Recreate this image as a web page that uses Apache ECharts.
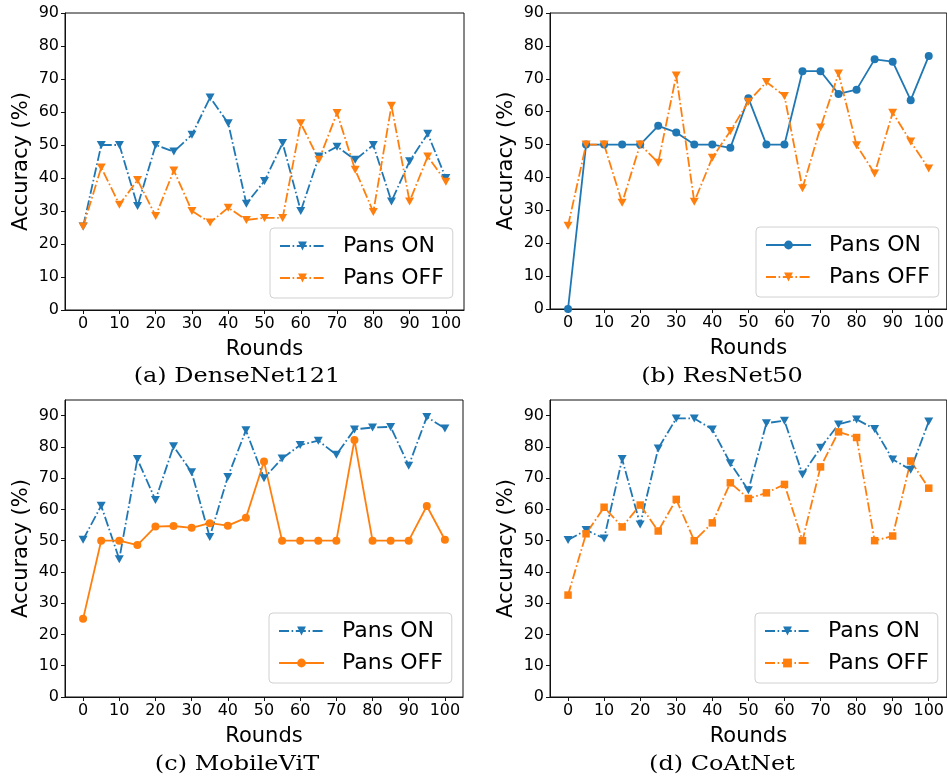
<!DOCTYPE html>
<html>
<head>
<meta charset="utf-8">
<script src="https://cdn.jsdelivr.net/npm/echarts@6/dist/echarts.min.js"></script>
<style>
  html, body { margin: 0; padding: 0; background: #fff; }
  #chart { width: 947px; height: 780px; }
</style>
</head>
<body>
<div id="chart"></div>
<script>
// Training rounds shared by every panel
const rounds = [0, 5, 10, 15, 20, 25, 30, 35, 40, 45, 50, 55, 60, 65, 70, 75, 80, 85, 90, 95, 100];
const xTicks = [0, 10, 20, 30, 40, 50, 60, 70, 80, 90, 100];
const yTicks = [0, 10, 20, 30, 40, 50, 60, 70, 80, 90];

// Accuracy (%) per round
const denseNetOn  = [25.3, 50.0, 50.0, 31.5, 50.0, 48.0, 53.1, 64.4, 56.6, 32.2, 39.1, 50.6, 30.0, 46.5, 49.5, 45.5, 50.0, 32.9, 45.1, 53.4, 40.0];
const denseNetOff = [25.3, 43.2, 31.9, 39.4, 28.5, 42.3, 30.0, 26.5, 31.0, 27.3, 27.9, 27.9, 56.6, 45.5, 59.7, 42.5, 29.7, 61.9, 32.9, 46.5, 38.9];

const resNetOn  = [0.0, 50.0, 50.0, 50.0, 50.0, 55.7, 53.7, 50.0, 50.0, 49.0, 64.1, 50.0, 50.0, 72.3, 72.3, 65.4, 66.7, 75.9, 75.2, 63.5, 76.9];
const resNetOff = [25.3, 50.0, 50.0, 32.3, 50.0, 44.5, 71.0, 32.6, 46.0, 54.1, 63.0, 69.0, 64.8, 36.7, 55.2, 71.6, 49.8, 41.2, 59.7, 50.9, 42.7];

const mobileVitOn  = [50.3, 61.2, 44.1, 76.1, 63.0, 80.2, 71.9, 51.2, 70.4, 85.3, 70.0, 76.3, 80.6, 82.0, 77.5, 85.6, 86.2, 86.4, 74.0, 89.6, 85.9];
const mobileVitOff = [25.0, 50.0, 50.0, 48.6, 54.5, 54.7, 54.1, 55.6, 54.8, 57.3, 75.3, 50.0, 50.0, 50.0, 50.0, 82.2, 50.0, 50.0, 50.0, 61.1, 50.3];

const coAtNetOn  = [50.2, 53.4, 50.7, 76.1, 55.2, 79.5, 89.1, 89.1, 85.6, 74.8, 66.1, 87.6, 88.4, 71.2, 79.7, 87.2, 88.8, 85.7, 76.0, 72.7, 88.1];
const coAtNetOff = [32.6, 52.2, 60.7, 54.4, 61.4, 53.1, 63.2, 50.0, 55.7, 68.5, 63.5, 65.3, 68.0, 50.0, 73.6, 84.8, 83.0, 50.0, 51.5, 75.5, 66.8];

const seriesLabels = ['Pans ON', 'Pans OFF'];
const modelNames = ['DenseNet121', 'ResNet50', 'MobileViT', 'CoAtNet'];
const captions = ['(a) DenseNet121', '(b) ResNet50', '(c) MobileViT', '(d) CoAtNet'];

const BLUE = '#1f77b4';
const ORANGE = '#ff7f0e';
const DASHDOT = [10, 2.6, 1.6, 2.6];
const SANS = 'DejaVu Sans';

// panel frames (px)
const panels = [
  { grid: { left: 65, top: 13, width: 399, height: 297 }, yMax: 90, legend: { left: 270, top: 228 }, caption: [237, 377] },
  { grid: { left: 550, top: 13, width: 398, height: 296 }, yMax: 90, legend: { left: 756, top: 227 }, caption: [722, 377] },
  { grid: { left: 65, top: 400, width: 398, height: 297 }, yMax: 95, legend: { left: 269, top: 613 }, caption: [237, 765] },
  { grid: { left: 550, top: 400, width: 398, height: 297 }, yMax: 95, legend: { left: 755, top: 613 }, caption: [722, 765] }
];

// per-panel line styles: [ON, OFF]
const styles = [
  [{ dash: DASHDOT, symbol: 'triangle', rot: 180, size: [9, 8] }, { dash: DASHDOT, symbol: 'triangle', rot: 180, size: [9, 8] }],
  [{ dash: 'solid', symbol: 'circle', rot: 0, size: 8 },          { dash: DASHDOT, symbol: 'triangle', rot: 180, size: [9, 8] }],
  [{ dash: DASHDOT, symbol: 'triangle', rot: 180, size: [9, 8] }, { dash: 'solid', symbol: 'circle', rot: 0, size: 8 }],
  [{ dash: DASHDOT, symbol: 'triangle', rot: 180, size: [9, 8] }, { dash: DASHDOT, symbol: 'rect', rot: 0, size: 7.5 }]
];

const values = [
  [denseNetOn, denseNetOff],
  [resNetOn, resNetOff],
  [mobileVitOn, mobileVitOff],
  [coAtNetOn, coAtNetOff]
];

const toPairs = vals => rounds.map((r, i) => [r, vals[i]]);
const SEP = ' · ';

const option = {
  backgroundColor: '#fff',
  animation: false,
  grid: panels.map(p => Object.assign({ show: true, borderColor: '#111', borderWidth: 1, backgroundColor: 'transparent' }, p.grid)),
  xAxis: panels.map((p, i) => ({
    gridIndex: i,
    type: 'value',
    min: -5,
    max: 105,
    name: 'Rounds',
    nameLocation: 'middle',
    nameGap: 29,
    nameTextStyle: { fontFamily: SANS, fontSize: 21, color: '#000' },
    axisLine: { show: true, onZero: false, lineStyle: { color: '#111', width: 1 } },
    axisTick: { show: true, length: 4, customValues: xTicks, lineStyle: { color: '#111' } },
    axisLabel: { customValues: xTicks, margin: 6, fontFamily: SANS, fontSize: 16, color: '#000' },
    splitLine: { show: false }
  })),
  yAxis: panels.map((p, i) => ({
    gridIndex: i,
    type: 'value',
    min: 0,
    max: p.yMax,
    interval: 10,
    name: 'Accuracy (%)',
    nameLocation: 'middle',
    nameGap: 33,
    nameTextStyle: { fontFamily: SANS, fontSize: 21, color: '#000' },
    axisLine: { show: true, onZero: false, lineStyle: { color: '#111', width: 1 } },
    axisTick: { show: true, length: 4, customValues: yTicks, lineStyle: { color: '#111' } },
    axisLabel: { customValues: yTicks, margin: 6, fontFamily: SANS, fontSize: 16, color: '#000' },
    splitLine: { show: false }
  })),
  legend: panels.map((p, i) => ({
    orient: 'vertical',
    left: p.legend.left,
    top: p.legend.top,
    data: seriesLabels.map(s => s + SEP + modelNames[i]),
    formatter: name => name.split(SEP)[0],
    itemWidth: 45,
    itemHeight: 11,
    itemGap: 10,
    padding: [7, 9, 9, 9],
    backgroundColor: 'rgba(255,255,255,0.85)',
    borderColor: '#d0d0d0',
    borderWidth: 1,
    borderRadius: 4,
    selectedMode: false,
    textStyle: { fontFamily: SANS, fontSize: 22, color: '#000', lineHeight: 22, padding: [0, 0, 0, 13] }
  })),
  series: [],
  graphic: captions.map((c, i) => ({
    type: 'text',
    x: panels[i].caption[0],
    y: panels[i].caption[1],
    scaleX: 1.2,
    style: {
      text: c,
      fontFamily: 'DejaVu Serif',
      fontSize: 20,
      fill: '#000',
      align: 'center',
      verticalAlign: 'middle'
    }
  }))
};

values.forEach((pair, i) => {
  pair.forEach((vals, k) => {
    const st = styles[i][k];
    const color = k === 0 ? BLUE : ORANGE;
    option.series.push({
      name: seriesLabels[k] + SEP + modelNames[i],
      type: 'line',
      xAxisIndex: i,
      yAxisIndex: i,
      data: toPairs(vals),
      symbol: st.symbol,
      symbolSize: st.size,
      symbolRotate: st.rot,
      showAllSymbol: true,
      clip: true,
      color: color,
      lineStyle: { color: color, width: 1.8, type: st.dash },
      itemStyle: { color: color, borderWidth: 0 }
    });
  });
});

const chart = echarts.init(document.getElementById('chart'), null, { renderer: 'canvas' });
chart.setOption(option);
</script>
</body>
</html>
